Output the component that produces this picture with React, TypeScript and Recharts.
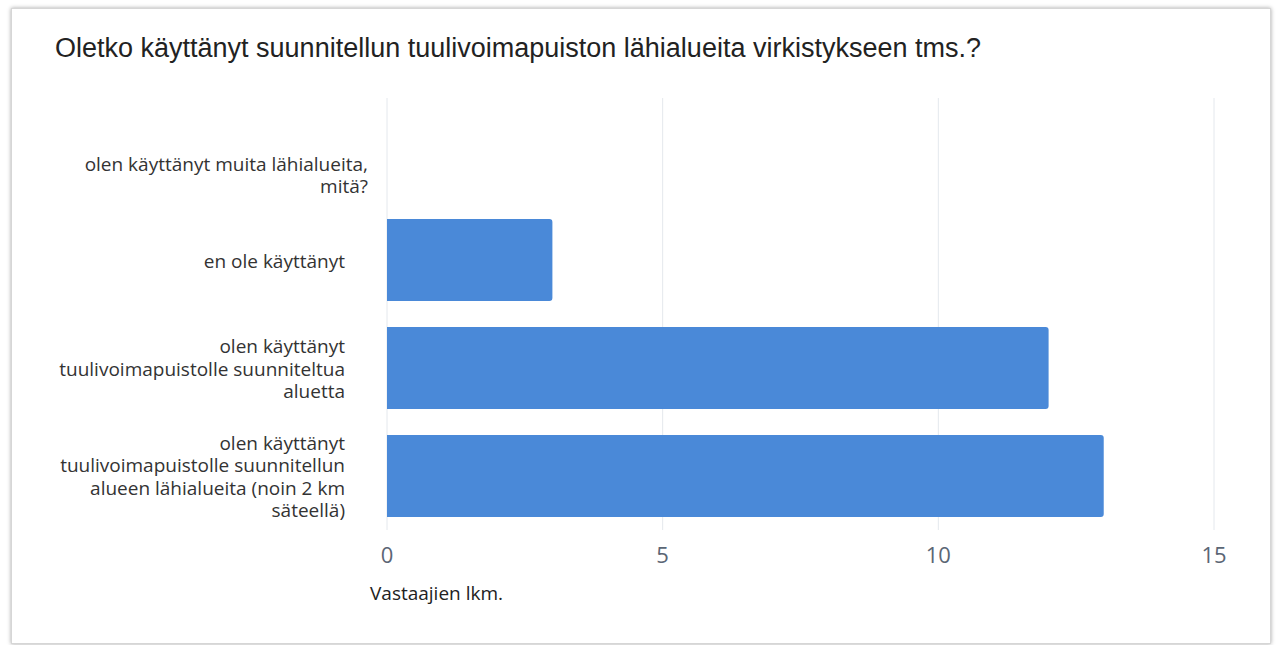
import React from 'react';
import { Bar, BarChart, CartesianGrid, XAxis, YAxis } from 'recharts';

// Vastausvaihtoehdot (rivitettyinä kuten alkuperäisessä)
const categories = [
  'muita',
  'eiKaytetty',
  'suunniteltuAlue',
  'lahialueet',
];

const labelLines = [
  ['olen käyttänyt muita lähialueita,', 'mitä?'],
  ['en ole käyttänyt'],
  ['olen käyttänyt', 'tuulivoimapuistolle suunniteltua', 'aluetta'],
  ['olen käyttänyt', 'tuulivoimapuistolle suunnitellun', 'alueen lähialueita (noin 2 km', 'säteellä)'],
];

const counts = [0, 3, 12, 13];

const xTicks = [0, 5, 10, 15];

const title = 'Oletko käyttänyt suunnitellun tuulivoimapuiston lähialueita virkistykseen tms.?';
const axisTitle = 'Vastaajien lkm.';

const data = categories.map((c, i) => ({ key: c, label: labelLines[i], value: counts[i] }));

const LINE_H = 22.3;

function CategoryTick(props: any) {
  const { x, y, index } = props;
  const lines: string[] = labelLines[index] || [];
  // the first option sits a bit lower and further right in the original
  const tx = index === 0 ? x - 11 : x - 34;
  const ty = index === 0 ? y + LINE_H : y;
  const startDy = -((lines.length - 1) / 2) * LINE_H;
  return (
    <text
      x={tx}
      y={ty}
      textAnchor="end"
      fill="#333333"
      fontSize={19}
      fontFamily="'Open Sans', sans-serif"
    >
      {lines.map((l, i) => (
        <tspan key={i} x={tx} dy={i === 0 ? startDy + 7.5 : LINE_H}>
          {l}
        </tspan>
      ))}
    </text>
  );
}

export default function App() {
  return (
    <div style={{ position: 'absolute', left: 0, top: 0, width: 1277, height: 645, background: '#fff' }}>
      <div
        style={{
          position: 'absolute',
          left: 11,
          top: 8,
          width: 1258,
          height: 634,
          border: '1px solid #d6d6d6',
          boxShadow: '0 0 4px rgba(0,0,0,0.35)',
          background: '#fff',
        }}
      />
      <div
        style={{
          position: 'absolute',
          left: 55,
          top: 33,
          fontFamily: "'Liberation Sans', Arial, sans-serif",
          fontSize: 27,
          color: '#222',
          whiteSpace: 'nowrap',
        }}
      >
        {title}
      </div>
      <div style={{ position: 'absolute', left: 0, top: 0 }}>
        <BarChart
          width={1277}
          height={645}
          data={data}
          layout="vertical"
          margin={{ top: 98, right: 63, bottom: 85, left: 0 }}
        >
          <CartesianGrid vertical horizontal={false} stroke="#e4e8ed" />
          <XAxis
            type="number"
            domain={[0, 15]}
            ticks={xTicks}
            axisLine={false}
            tickLine={false}
            tickMargin={11}
            tick={{ fontSize: 22, fill: '#5b6675', fontFamily: "'Open Sans', sans-serif" }}
          />
          <YAxis
            type="category"
            dataKey="key"
            width={387}
            axisLine={false}
            tickLine={false}
            tick={<CategoryTick />}
            interval={0}
          />
          <Bar
            dataKey="value"
            fill="#4a89d8"
            barSize={82}
            radius={[0, 3, 3, 0]}
            isAnimationActive={false}
          />
        </BarChart>
      </div>
      <div
        style={{
          position: 'absolute',
          left: 370,
          top: 580,
          fontFamily: "'Open Sans', sans-serif",
          fontSize: 19,
          color: '#222',
          whiteSpace: 'nowrap',
        }}
      >
        {axisTitle}
      </div>
    </div>
  );
}
